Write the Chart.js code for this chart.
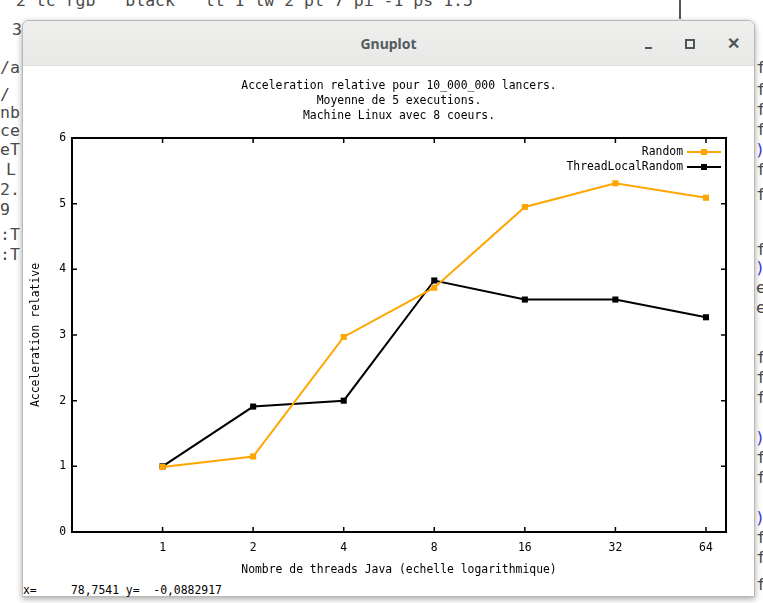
<!DOCTYPE html>
<html>
<head>
<meta charset="utf-8">
<title>Gnuplot</title>
<script src="https://cdn.jsdelivr.net/npm/chart.js@4.4.1/dist/chart.umd.min.js"></script>
<style>
  html, body { margin: 0; padding: 0; }
  body { width: 763px; height: 603px; position: relative; overflow: hidden; background: #fff; }
  .term { position: absolute; font-family: "DejaVu Sans Mono", monospace; font-size: 16.5px; color: #4a4a4a; white-space: pre; line-height: 20px; }
  #win {
    position: absolute; left: 22px; top: 20px; width: 731px; height: 575px;
    border: 1px solid #b9b9b6; border-radius: 7px 7px 0 0; background: #fff;
    box-shadow: 0 2px 6px rgba(0, 0, 0, 0.35);
  }
  #bar {
    position: absolute; left: 0; top: 0; right: 0; height: 44px;
    border-radius: 7px 7px 0 0;
    background: linear-gradient(#efefee, #e8e8e7);
    border-bottom: 1px solid #dcdcda;
  }
  #bar .title {
    position: absolute; left: 0; right: 0; top: 13px; text-align: center;
    font-family: "Noto Sans", sans-serif; font-size: 14px; font-weight: bold; color: #535b5f;
  }
  #bar .btn { position: absolute; font-family: "Noto Sans", sans-serif; font-weight: bold; color: #4e575b; }
  #chart-box { position: absolute; left: 22px; top: 64px; width: 733px; height: 515px; }
  #status {
    position: absolute; left: 23px; top: 583px; font-family: "DejaVu Sans Mono", monospace;
    font-size: 11.4px; color: #000; white-space: pre;
  }
</style>
</head>
<body>

<div id="term"></div>

<div id="win">
  <div id="bar">
    <div class="title">Gnuplot</div>
    <div class="btn" style="left:622px; top:26px; width:7px; height:2px; background:#4e575b;"></div>
    <div class="btn" style="left:662px; top:18px; width:6px; height:6px; border:2px solid #4e575b;"></div>
    <div class="btn" style="left:704px; top:11px; font-size:16px;">✕</div>
  </div>
</div>

<div id="chart-box"><canvas id="plot" width="733" height="515"></canvas></div>
<div id="status">x=     78,7541 y=  -0,0882917</div>

<script>
// thread counts (x axis, log scale) and measured speedups
var threads = [1, 2, 4, 8, 16, 32, 64];
var randomSpeedup = [0.99, 1.15, 2.97, 3.72, 4.95, 5.31, 5.09];
var tlrSpeedup = [1.0, 1.91, 2.0, 3.83, 3.54, 3.54, 3.27];
var yTicks = [0, 1, 2, 3, 4, 5, 6];

var titleLines = [
    'Acceleration relative pour 10_000_000 lancers.',
    'Moyenne de 5 executions.',
    'Machine Linux avec 8 coeurs.'
];

// terminal text peeking out behind the gnuplot window
var termBits = [
    [16, -9, '2 tc rgb  "black"  lt 1 lw 2 pt 7 pi -1 ps 1.5', '#4a4a4a'],
    [12, 20, '3', '#4a4a4a'],
    [0, 58, '/a', '#4a4a4a'],
    [0, 85, '/', '#4a4a4a'],
    [0, 103, 'nb', '#4a4a4a'],
    [0, 121, 'ce', '#4a4a4a'],
    [0, 140, 'eT', '#4a4a4a'],
    [6, 160, 'L', '#4a4a4a'],
    [0, 180, '2.', '#4a4a4a'],
    [0, 200, '9', '#4a4a4a'],
    [0, 225, ':T', '#4a4a4a'],
    [0, 245, ':T', '#4a4a4a'],
    [756, 58, 'f', '#4a4a4a'],
    [756, 80, 'f', '#4a4a4a'],
    [756, 100, 'f', '#4a4a4a'],
    [756, 120, 'f', '#4a4a4a'],
    [755, 140, ')', '#3b3bd9'],
    [756, 160, 'f', '#4a4a4a'],
    [756, 185, 'f', '#4a4a4a'],
    [756, 240, 'f', '#4a4a4a'],
    [755, 258, ')', '#3b3bd9'],
    [756, 278, 'e', '#4a4a4a'],
    [756, 298, 'e', '#4a4a4a'],
    [756, 348, 'f', '#4a4a4a'],
    [756, 368, 'f', '#4a4a4a'],
    [756, 388, 'f', '#4a4a4a'],
    [755, 428, ')', '#3b3bd9'],
    [756, 448, 'f', '#4a4a4a'],
    [756, 468, 'f', '#4a4a4a'],
    [755, 508, ')', '#3b3bd9'],
    [756, 528, 'f', '#4a4a4a'],
    [756, 548, 'f', '#4a4a4a'],
    [756, 575, 'f', '#4a4a4a']
];

var term = document.getElementById('term');
termBits.forEach(function(b) {
    var s = document.createElement('div');
    s.className = 'term';
    s.style.left = b[0] + 'px';
    s.style.top = b[1] + 'px';
    s.style.color = b[3];
    s.textContent = b[2];
    term.appendChild(s);
});
var sb = document.createElement('div');
sb.style.cssText = 'position:absolute;left:679px;top:0;width:2px;height:19px;background:#555;';
term.appendChild(sb);

var FONT = '"DejaVu Sans Mono", monospace';
Chart.defaults.font.family = FONT;
Chart.defaults.font.size = 11.4;
Chart.defaults.color = '#000';

function toPoints(values) {
    return threads.map(function(t, i) { return { x: t, y: values[i] }; });
}

// gnuplot style frame: box with inward ticks on all four sides, plus key in the top right
var gnuplotFrame = {
    id: 'gnuplotFrame',
    afterDatasetsDraw: function(chart) {
        var ctx = chart.ctx;
        var a = chart.chartArea;
        var xs = chart.scales.x, ys = chart.scales.y;
        var tick = 5;

        ctx.save();
        ctx.strokeStyle = '#000';
        ctx.lineWidth = 1.5;
        ctx.beginPath();
        threads.forEach(function(t) {
            var px = xs.getPixelForValue(t);
            ctx.moveTo(px, a.bottom); ctx.lineTo(px, a.bottom - tick);
            ctx.moveTo(px, a.top); ctx.lineTo(px, a.top + tick);
        });
        yTicks.forEach(function(v) {
            var py = ys.getPixelForValue(v);
            ctx.moveTo(a.left, py); ctx.lineTo(a.left + tick, py);
            ctx.moveTo(a.right, py); ctx.lineTo(a.right - tick, py);
        });
        ctx.stroke();

        ctx.lineWidth = 2;
        ctx.strokeRect(a.left, a.top, a.right - a.left, a.bottom - a.top);

        // key
        ctx.font = '11.4px ' + FONT;
        ctx.textAlign = 'right';
        ctx.textBaseline = 'middle';
        chart.data.datasets.forEach(function(ds, i) {
            var y = a.top + 14 + i * 15;
            var x1 = a.right - 39, x2 = a.right - 5, mx = (x1 + x2) / 2;
            ctx.fillStyle = '#000';
            ctx.fillText(ds.label, a.right - 43, y);
            ctx.strokeStyle = ds.borderColor;
            ctx.lineWidth = 2;
            ctx.beginPath();
            ctx.moveTo(x1, y); ctx.lineTo(x2, y);
            ctx.stroke();
            ctx.fillStyle = ds.borderColor;
            ctx.fillRect(mx - 3, y - 3, 6, 6);
        });
        ctx.restore();
    }
};

new Chart(document.getElementById('plot'), {
    type: 'line',
    data: {
        datasets: [{
            label: 'Random',
            data: toPoints(randomSpeedup),
            borderColor: '#ffa500',
            backgroundColor: '#ffa500',
            borderWidth: 2,
            pointStyle: 'rect',
            pointRadius: 4.3,
            pointBorderWidth: 0,
            tension: 0
        }, {
            label: 'ThreadLocalRandom',
            data: toPoints(tlrSpeedup),
            borderColor: '#000000',
            backgroundColor: '#000000',
            borderWidth: 2,
            pointStyle: 'rect',
            pointRadius: 4.3,
            pointBorderWidth: 0,
            tension: 0
        }]
    },
    options: {
        responsive: false,
        animation: false,
        layout: { padding: { left: 0, right: 29, top: 0, bottom: 0 } },
        plugins: {
            legend: { display: false },
            tooltip: { enabled: false },
            title: {
                display: true,
                fullSize: false,
                text: titleLines,
                color: '#000',
                font: { family: FONT, size: 11.4, weight: 'normal', lineHeight: '15px' },
                padding: { top: 14.5, bottom: 14.5 }
            }
        },
        scales: {
            x: {
                type: 'logarithmic',
                min: 0.5,
                max: 74.6,
                grid: { display: false, drawTicks: false },
                border: { display: false },
                afterBuildTicks: function(scale) {
                    scale.ticks = threads.map(function(t) { return { value: t }; });
                },
                afterFit: function(scale) { scale.height = 47; },
                ticks: {
                    padding: 9,
                    autoSkip: false,
                    maxRotation: 0,
                    callback: function(value) { return String(value); }
                },
                title: {
                    display: true,
                    text: 'Nombre de threads Java (echelle logarithmique)',
                    padding: { top: 0, bottom: 2 }
                }
            },
            y: {
                min: 0,
                max: 6,
                grid: { display: false, drawTicks: false },
                border: { display: false },
                afterBuildTicks: function(scale) {
                    scale.ticks = yTicks.map(function(v) { return { value: v }; });
                },
                afterFit: function(scale) { scale.width = 50; },
                ticks: { padding: 6 },
                title: {
                    display: true,
                    text: 'Acceleration relative',
                    padding: { top: 7, bottom: 0 }
                }
            }
        }
    },
    plugins: [gnuplotFrame]
});
</script>
</body>
</html>
